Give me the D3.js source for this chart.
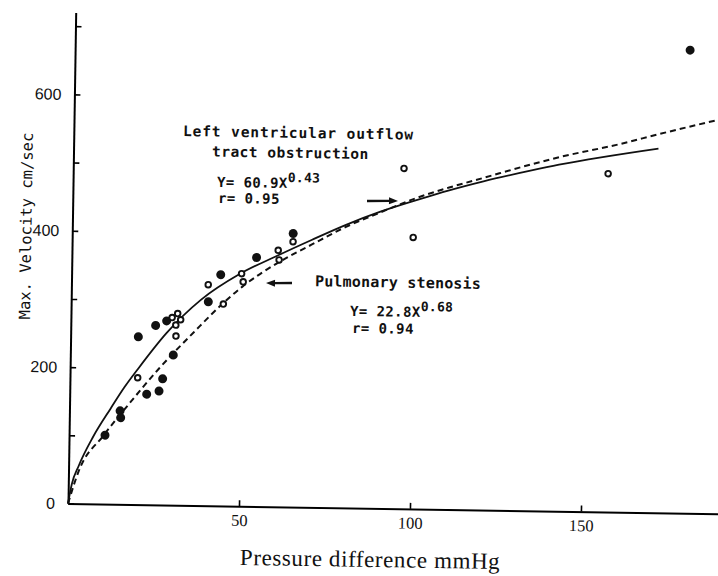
<!DOCTYPE html>
<html>
<head>
<meta charset="utf-8">
<script src="https://cdn.jsdelivr.net/npm/d3@7"></script>
<style>
  body { margin: 0; background: #fff; }
  svg { display: block; }
</style>
</head>
<body>
<div class="velocity_plot"></div>
<script>
// filled circles (pressure mmHg, velocity cm/sec)
const filledPressure = [10.5, 14.8, 15.0, 19.8, 22.5, 26.1, 27.1, 24.8, 28.0, 30.1, 40.1, 43.6, 54.0, 64.6, 179.8];
const filledVelocity = [101, 137, 127, 246, 162, 167, 185, 263, 270, 220, 299, 339, 365, 401, 679];

// open circles
const openPressure = [19.8, 29.6, 31.2, 32.1, 30.7, 30.8, 40.0, 44.5, 49.7, 50.2, 60.3, 60.6, 64.6, 96.7, 99.7, 156.4];
const openVelocity = [186, 275, 281, 272, 264, 248, 324, 296, 341, 329, 376, 362, 389, 499, 398, 496];

// fitted curves as drawn in the figure
const lvotCurveX = [0, 1, 3, 7, 12, 16, 20, 28, 38, 49, 60, 70, 80, 90, 100, 110, 120, 134, 142, 171];
const lvotCurveY = [0, 28, 56, 98, 140, 172, 200, 252, 302, 340, 368, 392, 415, 435, 452, 468, 482, 499, 508, 534];
const psCurveX = [0, 3, 10, 17, 26, 36, 45, 50, 61, 70, 80, 90, 100, 110, 120, 134, 142, 160, 171, 188];
const psCurveY = [0, 48, 100, 145, 200, 254, 300, 322, 360, 385, 412, 434, 455, 472, 487, 508, 519, 540, 555, 577];

const xTicks = [50, 100, 150];
const yTicks = [0, 100, 200, 300, 400, 500, 600, 700];
const yLabelled = [0, 200, 400, 600];

const width = 718, height = 576;
const ox = 68, oy = 503.5;   // origin of the plot on the page
const tilt = 0.9;            // the scanned figure is slightly rotated
const t = tilt * Math.PI / 180;

// position inside the tilted group that lands on (px, py) of the page
function untilt(px, py) {
    const dx = px - ox, dy = py - oy;
    return [ox + dx * Math.cos(t) + dy * Math.sin(t),
            oy - dx * Math.sin(t) + dy * Math.cos(t)];
}

const xScale = d3.scaleLinear().domain([0, 190]).range([ox, ox + 190 * 3.42]);
const yScale = d3.scaleLinear().domain([0, 720]).range([oy, oy - 720 * 0.682]);

const svg = d3.select('.velocity_plot')
              .append('svg')
              .attr('width', width)
              .attr('height', height);

const g = svg.append('g')
             .attr('transform', `rotate(${tilt}, ${ox}, ${oy})`);

// axes
const xAxis = d3.axisBottom(xScale)
                .tickValues(xTicks)
                .tickSize(-6)
                .tickSizeOuter(0)
                .tickPadding(8);
const yAxis = d3.axisLeft(yScale)
                .tickValues(yTicks)
                .tickSize(-6)
                .tickSizeOuter(0)
                .tickPadding(13)
                .tickFormat(d => yLabelled.includes(d) ? d : '');

const gx = g.append('g')
            .attr('class', 'axis x-axis')
            .attr('transform', `translate(0, ${oy})`)
            .call(xAxis);
gx.select('.domain').attr('stroke-width', 2);
gx.selectAll('.tick line').attr('stroke-width', 1.6);
gx.selectAll('.tick text')
  .attr('font-family', '"Liberation Serif", serif')
  .attr('font-size', 16.5)
  .attr('fill', '#111');

const gy = g.append('g')
            .attr('class', 'axis y-axis')
            .attr('transform', `translate(${ox}, 0)`)
            .call(yAxis);
gy.select('.domain').attr('stroke-width', 2);
gy.selectAll('.tick line').attr('stroke-width', 1.6);
gy.selectAll('.tick text')
  .attr('font-family', '"Liberation Sans", Arial, sans-serif')
  .attr('font-size', 16)
  .attr('fill', '#111');

// curves
const line = d3.line()
               .x(d => xScale(d[0]))
               .y(d => yScale(d[1]))
               .curve(d3.curveMonotoneX);

g.append('path')
 .datum(lvotCurveX.map((x, i) => [x, lvotCurveY[i]]))
 .attr('d', line)
 .attr('fill', 'none')
 .attr('stroke', '#111')
 .attr('stroke-width', 1.8);

g.append('path')
 .datum(psCurveX.map((x, i) => [x, psCurveY[i]]))
 .attr('d', line)
 .attr('fill', 'none')
 .attr('stroke', '#111')
 .attr('stroke-width', 2)
 .attr('stroke-dasharray', '6,4');

// points
g.selectAll('circle.filled')
 .data(filledPressure.map((x, i) => [x, filledVelocity[i]]))
 .enter()
 .append('circle')
 .attr('class', 'filled')
 .attr('cx', d => xScale(d[0]))
 .attr('cy', d => yScale(d[1]))
 .attr('r', 4.5)
 .attr('fill', '#111');

g.selectAll('circle.open')
 .data(openPressure.map((x, i) => [x, openVelocity[i]]))
 .enter()
 .append('circle')
 .attr('class', 'open')
 .attr('cx', d => xScale(d[0]))
 .attr('cy', d => yScale(d[1]))
 .attr('r', 2.8)
 .attr('fill', '#fff')
 .attr('stroke', '#111')
 .attr('stroke-width', 1.9);

// axis titles
let p = untilt(26, 226);
g.append('text')
 .attr('transform', `translate(${p[0]}, ${p[1]}) rotate(-90)`)
 .attr('text-anchor', 'middle')
 .attr('dy', '0.35em')
 .attr('font-family', '"DejaVu Sans Mono", monospace')
 .attr('font-size', 15.5)
 .attr('fill', '#111')
 .text('Max. Velocity cm/sec');

p = untilt(370, 567);
g.append('text')
 .attr('x', p[0])
 .attr('y', p[1])
 .attr('text-anchor', 'middle')
 .attr('font-family', '"Liberation Serif", serif')
 .attr('font-size', 23)
 .attr('letter-spacing', 0.6)
 .attr('fill', '#111')
 .text('Pressure difference mmHg');

// annotations
function note(px, py, txt, size, spacing, sup) {
    const q = untilt(px, py);
    const el = g.append('text')
                .attr('x', q[0])
                .attr('y', q[1])
                .attr('dy', '0.35em')
                .attr('font-family', '"DejaVu Sans Mono", monospace')
                .attr('font-weight', 'bold')
                .attr('font-size', size)
                .attr('letter-spacing', spacing)
                .attr('fill', '#111')
                .style('white-space', 'pre')
                .text(txt);
    if (sup) {
        el.append('tspan')
          .attr('dy', -6)
          .attr('font-size', 13)
          .attr('letter-spacing', 0.3)
          .text(sup);
    }
}

note(183, 131, 'Left ventricular outflow', 14.5, 0.9);
note(212, 151.5, 'tract obstruction', 14.5, 0.5);
note(217, 182, 'Y= 60.9X', 14, 0.4, '0.43');
note(218, 198, 'r= 0.95', 14, 0.4);

note(315, 281, 'Pulmonary stenosis', 15, 0.2);
note(350, 311, 'Y= 22.8X', 14, 0.4, '0.68');
note(352, 328, 'r= 0.94', 14, 0.4);

function arrow(x1, x2, py) {
    const a = untilt(x1, py), b = untilt(x2, py);
    const dir = Math.sign(b[0] - a[0]);
    const head = 9;
    g.append('line')
     .attr('x1', a[0]).attr('y1', a[1])
     .attr('x2', b[0] - dir * head).attr('y2', b[1])
     .attr('stroke', '#111')
     .attr('stroke-width', 2.4);
    g.append('path')
     .attr('d', `M${b[0]},${b[1]} L${b[0] - dir * head},${b[1] - 3.5} L${b[0] - dir * head},${b[1] + 3.5} Z`)
     .attr('fill', '#111');
}

arrow(367, 398, 201);
arrow(292, 266, 283);
</script>
</body>
</html>
